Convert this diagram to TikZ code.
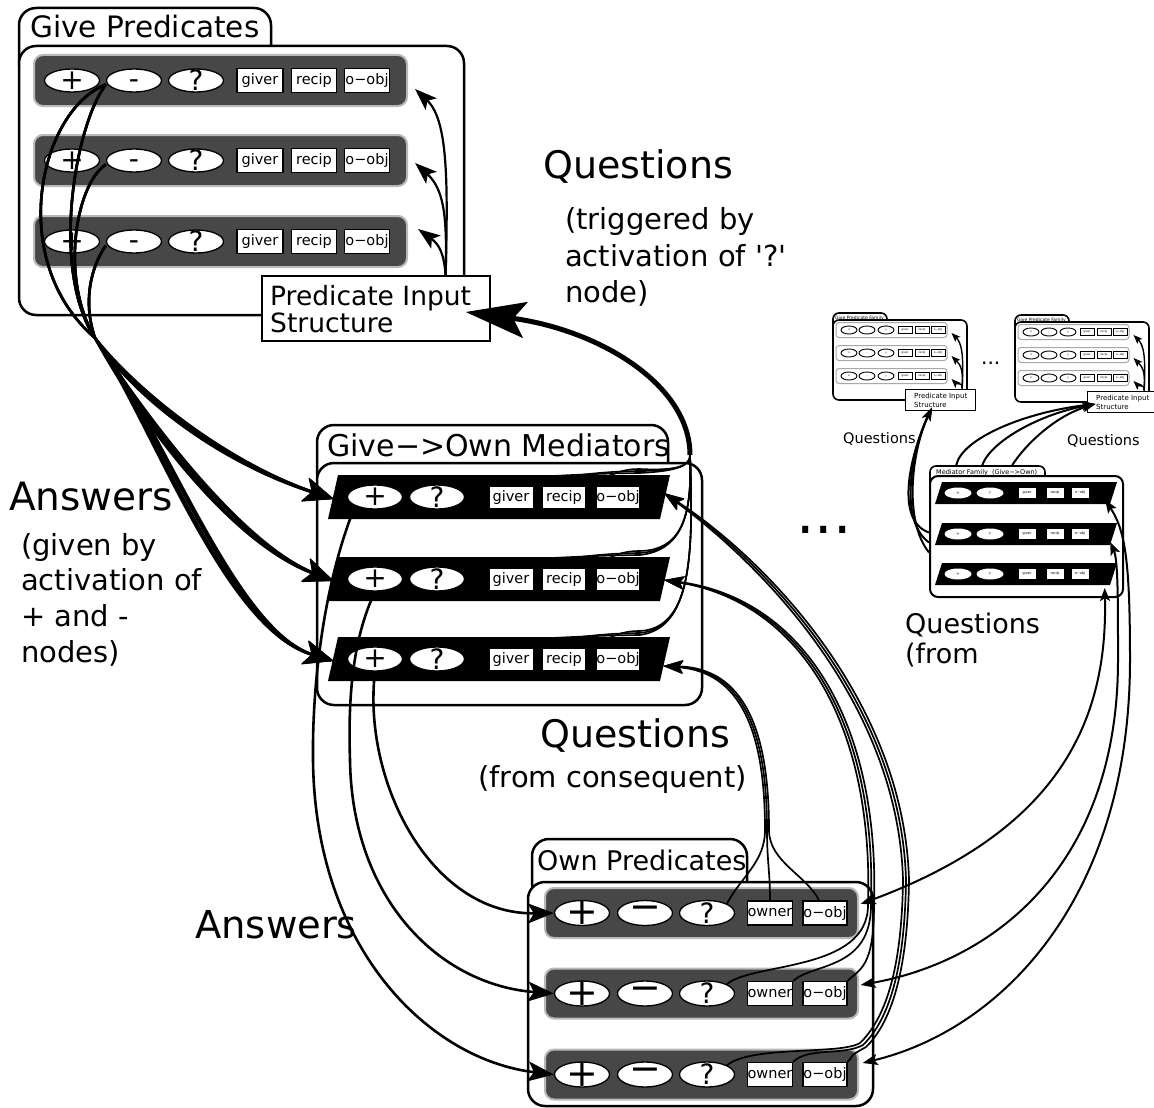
\documentclass[tikz,border=0pt]{standalone}
\usepackage{fontspec}
\setmainfont{DejaVu Sans}
\usetikzlibrary{shapes.geometric,arrows.meta}

\definecolor{rowgrey}{HTML}{474747}
\definecolor{rowedge}{HTML}{B9B9B9}
\definecolor{minirow}{HTML}{A8A8A8}
\newcommand\setsz[1]{\fontsize{#1}{#1}\selectfont}
% a hyphen whose box is centred on the glyph itself
\newcommand\lowdash{\raisebox{-7.6pt}[0pt][0pt]{-}}

\tikzset{
  grp/.style={draw, line width=2.5pt, rounded corners=17pt, fill=white, inner sep=0pt},
  predrow/.style={draw=rowedge, fill=rowgrey, line width=2pt, rounded corners=9pt, inner sep=0pt},
  ovshape/.style={ellipse, draw, fill=white, line width=1.3pt, inner sep=0pt, minimum width=55pt, minimum height=23pt},
  ov/.style={ovshape, label={[inner sep=0pt, font=\setsz{28}]center:#1}},
  ovB/.style={ovshape, minimum height=25pt, label={[inner sep=0pt, font=\setsz{38}]center:#1}},
  slot/.style={rectangle, draw, fill=white, line width=1.2pt, inner sep=0pt, minimum height=24pt, font=\setsz{14.5}},
  mslot/.style={slot, minimum height=22pt, line width=0.8pt},
  lbl/.style={anchor=base west, inner sep=0pt},
  pisbox/.style={rectangle, draw, fill=white, line width=1.3pt, inner sep=0pt},
  ans/.style={line width=2.6pt, -{Stealth[length=30pt,width=24pt,inset=7pt]}},
  ansO/.style={line width=2.6pt, -{Stealth[length=26pt,width=20pt,inset=6pt]}},
  pisA/.style={line width=2.2pt, -{Stealth[length=22pt,width=16pt,inset=5pt]}},
  qthin/.style={line width=1.6pt},
  qarr/.style={line width=1.7pt, -{Stealth[length=20pt,width=13pt,inset=4pt]}},
  trunk/.style={line width=5pt, -{Stealth[length=60pt,width=36pt,inset=12pt]}},
  rarr/.style={line width=2pt, {Stealth[length=15pt,width=11pt,inset=3pt]}-{Stealth[length=13pt,width=10pt,inset=3pt]}},
  farr/.style={line width=2pt, -{Stealth[length=13pt,width=9pt,inset=3pt]}},
  marr/.style={line width=1.4pt, -{Stealth[length=9pt,width=7pt,inset=2pt]}},
  % miniature families
  mgrp/.style={draw, line width=1.6pt, rounded corners=6pt, fill=white, inner sep=0pt},
  mrow/.style={draw=minirow, fill=white, line width=1pt, rounded corners=3pt, inner sep=0pt},
  mov/.style={ellipse, draw, fill=white, line width=0.9pt, inner sep=0pt, minimum width=16pt, minimum height=8pt, label={[inner sep=0pt, font=\setsz{3}]center:#1}},
  mbx/.style={rectangle, draw, fill=white, line width=0.7pt, inner sep=0pt, minimum width=14pt, minimum height=7pt, font=\setsz{2.8}},
  fov/.style={ellipse, fill=white, inner sep=0pt, minimum width=27pt, minimum height=11pt, label={[inner sep=0pt, font=\setsz{4}]center:#1}},
  fbx/.style={rectangle, fill=white, inner sep=0pt, minimum width=17pt, minimum height=10pt, font=\setsz{3.5}},
}

\begin{document}
\begin{tikzpicture}[x=1pt,y=-1pt]
\useasboundingbox (0,0) rectangle (1154,1108);

% ---------------- Give Predicates ----------------
\node[grp, minimum width=252pt, minimum height=72pt] (gtab) at (145,44) {};
\node[grp, minimum width=445pt, minimum height=269pt] (gbox) at (241.5,180.5) {};
\node[lbl, font=\setsz{29.5}] (gtitle) at (30,38) {Give Predicates};
\foreach \kk/\cy in {1/80.5, 2/160.5, 3/241.5} {
  \node[predrow, minimum width=373pt, minimum height=51pt] (grow\kk) at (220.5,\cy) {};
  \node[ov={+}] (gp\kk) at (72,\cy) {};
  \node[ov={\lowdash}] (gm\kk) at (134,\cy) {};
  \node[ov={?}] (gq\kk) at (196,\cy) {};
  \node[slot, minimum width=46pt] (gg\kk) at (260,\cy) {giver};
  \node[slot, minimum width=45pt] (gr\kk) at (314,\cy) {recip};
  \node[slot, minimum width=45pt] (go\kk) at (367,\cy) {o−obj};
}
\node[pisbox, minimum width=228pt, minimum height=65pt] (pis) at (376,308.5) {};
\node[lbl, font=\setsz{26.5}] (pist1) at (270,305) {Predicate Input};
\node[lbl, font=\setsz{26.5}] (pist2) at (270,332) {Structure};

% ---------------- Give->Own Mediators ----------------
\node[grp, minimum width=351pt, minimum height=65pt] (mtab) at (492.5,457.5) {};
\node[grp, minimum width=385pt, minimum height=242pt] (mbox) at (509.5,584) {};
\node[lbl, font=\setsz{30}] (mtitle) at (327,456) {Give−>Own Mediators};
\foreach \kk/\tp in {1/475, 2/557, 3/637} {
  \fill (338,\tp) -- (670,\tp) -- (660,{\tp+44}) -- (328,{\tp+44}) -- cycle;
  \node[ov={+}, minimum height=24pt] (mp\kk) at (375,{\tp+22}) {};
  \node[ov={?}, minimum height=24pt] (mq\kk) at (437,{\tp+22}) {};
  \node[mslot, minimum width=44pt] (mg\kk) at (511,{\tp+22}) {giver};
  \node[mslot, minimum width=43pt] (mr\kk) at (564,{\tp+22}) {recip};
  \node[mslot, minimum width=42pt] (mo\kk) at (618,{\tp+22}) {o−obj};
}

% ---------------- Own Predicates ----------------
\node[grp, minimum width=215pt, minimum height=61pt] (otab) at (639.5,869.5) {};
\node[grp, minimum width=345pt, minimum height=224pt] (obox) at (700.5,994) {};
\node[lbl, font=\setsz{27}] (otitle) at (537,870) {Own Predicates};
\foreach \kk/\cy in {1/913, 2/993.5, 3/1074.5} {
  \node[predrow, minimum width=313pt, minimum height=50pt] (orow\kk) at (701.5,\cy) {};
  \node[ovB={+}] (op\kk) at (582,\cy) {};
  \node[ovB={−}] (om\kk) at (645,\cy) {};
  \node[ov={?}, minimum height=25pt] (oq\kk) at (707,\cy) {};
  \node[slot, minimum width=45pt] (ow\kk) at (770,\cy) {owner};
  \node[slot, minimum width=44pt] (oo\kk) at (825,\cy) {o−obj};
}

% ---------------- miniature predicate families ----------------
\foreach \famid/\dx/\dy in {1/0/0, 2/182/2} {
  \begin{scope}[shift={(\dx,\dy)}]
    \node[mgrp, minimum width=54pt, minimum height=18pt] (f\famid-tab) at (860,322) {};
    \node[mgrp, minimum width=134pt, minimum height=80pt] (f\famid-box) at (900,360) {};
    \node[lbl, font=\setsz{4.5}] (f\famid-title) at (835,319) {Give Predicate Family};
    \foreach \rr/\cy in {1/330, 2/353, 3/376} {
      \node[mrow, minimum width=111pt, minimum height=15pt] (f\famid-row\rr) at (891.5,\cy) {};
      \node[mov={+}] (f\famid-p\rr) at (849,\cy) {};
      \node[mov={-}] (f\famid-m\rr) at (867,\cy) {};
      \node[mov={?}] (f\famid-q\rr) at (886,\cy) {};
      \node[mbx] (f\famid-g\rr) at (905,\cy) {giver};
      \node[mbx] (f\famid-r\rr) at (922,\cy) {recip};
      \node[mbx] (f\famid-o\rr) at (938,\cy) {o−obj};
    }
    \node[pisbox, line width=1pt, minimum width=70pt, minimum height=21pt] (f\famid-pis) at (940,399.5) {};
    \node[lbl, font=\setsz{7}] (f\famid-pt1) at (914,398) {Predicate Input};
    \node[lbl, font=\setsz{7}] (f\famid-pt2) at (914,407.5) {Structure};
    \foreach \rr/\aa/\bb in {1/-35/10, 2/-20/8, 3/-6/5} {
      \draw[marr] ([xshift=22pt]f\famid-pis.north) .. controls +(2,\aa) and +(\bb,\bb) .. ([xshift=4pt,yshift=-3pt]f\famid-row\rr.east);
    }
  \end{scope}
}

% ---------------- miniature mediator family ----------------
\node[mgrp, minimum width=115pt, minimum height=22pt] (mf-tab) at (987.5,477) {};
\node[mgrp, line width=2pt, rounded corners=8pt, minimum width=193pt, minimum height=121pt] (mf-box) at (1026.5,536.5) {};
\node[lbl, font=\setsz{6.5}] (mf-title) at (936,474) {Mediator Family~ (Give−>Own)};
\foreach \kk/\tp in {1/482, 2/523, 3/563} {
  \fill (942,\tp) -- (1117,\tp) -- (1110,{\tp+22}) -- (935,{\tp+22}) -- cycle;
  \node[fov={+}] (mf-p\kk) at (958,{\tp+11}) {};
  \node[fov={?}] (mf-q\kk) at (990,{\tp+11}) {};
  \node[fbx] (mf-g\kk) at (1027,{\tp+11}) {giver};
  \node[fbx] (mf-r\kk) at (1055,{\tp+11}) {recip};
  \node[fbx] (mf-o\kk) at (1080,{\tp+11}) {o−obj};
}

% ---------------- free text ----------------
\node[lbl, font=\setsz{38}] (qtop) at (543,178) {Questions};
\node[lbl, font=\setsz{29}] (qtop1) at (565,229) {(triggered by};
\node[lbl, font=\setsz{29}] (qtop2) at (565,266) {activation of \textquotesingle?\textquotesingle};
\node[lbl, font=\setsz{29}] (qtop3) at (565,302) {node)};
\node[lbl, font=\setsz{39}] (ansl) at (9,510) {Answers};
\node[lbl, font=\setsz{29}] (ansl1) at (21,555) {(given by};
\node[lbl, font=\setsz{29}] (ansl2) at (21,590) {activation of};
\node[lbl, font=\setsz{29}] (ansl3) at (21,626) {+ and -};
\node[lbl, font=\setsz{29}] (ansl4) at (21,662) {nodes)};
\node[lbl, font=\setsz{38}] (qmid) at (540,747) {Questions};
\node[lbl, font=\setsz{29}] (qmid1) at (478,787) {(from consequent)};
\node[lbl, font=\setsz{38.5}] (ansb) at (195,938) {Answers};
\node[lbl, font=\setsz{58}] (dots) at (796,533) {...};
\node[lbl, font=\setsz{27}] (qright) at (905,633) {Questions};
\node[lbl, font=\setsz{27}] (qright1) at (905,663) {(from};
\node[lbl, font=\setsz{14.5}] (qsmall1) at (843,443) {Questions};
\node[lbl, font=\setsz{14.5}] (qsmall2) at (1067,445) {Questions};
\node[lbl, font=\setsz{20}] (dots2) at (981,364) {...};

% ---------------- connectors ----------------
% predicate input structure feeds the give rows
\coordinate (pisTop) at ([xshift=-45pt]pis.north east);
\draw[pisA] (pisTop) .. controls (448,180) and (448,120) .. ([xshift=25pt,yshift=-8.5pt]go1.east);
\draw[pisA] (pisTop) .. controls (447,220) and (445,190) .. ([xshift=25pt,yshift=-2.5pt]go2.east);
\draw[pisA] (pisTop) .. controls (444,255) and (440,245) .. ([xshift=28pt,yshift=12.5pt]go3.east);

% answers from the give rows to the mediator rows
\coordinate (conv) at (95,338);
\foreach \jj/\ax/\ay/\bx/\by in {1/140/400/230/465, 2/150/430/240/545, 3/160/430/230/630} {
  \foreach \gi/\ux/\uy/\vx/\vy/\dd in {1/40/110/5/260/-5, 1/75/125/50/270/-2, 2/75/185/60/280/2, 3/92/265/82/300/5} {
    \draw[ans] ([yshift=-4pt]gm\gi.west) .. controls (\ux,\uy) and (\vx,\vy) .. (conv)
      .. controls ({\ax+\dd},\ay) and ({\bx+\dd},\by) .. ([xshift=-13pt,yshift=-2pt]mp\jj.west);
  }
}

% questions from the mediator rows to the predicate input structure
\coordinate (medQ) at (690,455);
\coordinate (pisTip) at ([xshift=-25pt,yshift=-3.5pt]pis.east);
\foreach \kk/\tp/\hx/\hy/\gx/\gy in {1/475/680/471/690/465, 2/557/685/550/692/510, 3/637/690/628/694/560} {
  \foreach \st/\ii in {mq\kk.north east/0, mg\kk.north east/1, mr\kk.north east/2} {
    \draw[qthin] (\st) .. controls +(30,-12) and (620,{\tp-2-2*\ii}) .. (640,{\tp-2-2*\ii})
      .. controls (\hx,\hy) and (\gx,\gy) .. (medQ);
  }
}
\draw[trunk] (medQ) .. controls (690,385) and (600,330) .. (pisTip);

% answers from the mediator rows to the own rows
\draw[ansO] (mp1.south west) .. controls (325,580) and (312,680) .. (313,760) .. controls (315,950) and (430,1060) .. (op3.west);
\draw[ansO] (mp2.south) .. controls (352,640) and (348,700) .. (350,760) .. controls (352,900) and (440,985) .. (op2.west);
\draw[ansO] (mp3.south) .. controls (362,780) and (430,915) .. (op1.west);

% questions from the own rows back to the mediator rows
\coordinate (mt1) at ([xshift=24pt,yshift=4pt]mo1.east);
\coordinate (mt2) at ([xshift=24pt,yshift=-1pt]mo2.east);
\coordinate (mt3) at ([xshift=23pt,yshift=-7pt]mo3.east);
\draw[qarr] (oq1.north east) .. controls +(15,-28) and (765,862) .. (765,830) .. controls (765,730) and (740,672) .. (mt3);
\draw[qarr] (ow1.north) .. controls +(0,-30) and (767,862) .. (767,830) .. controls (767,730) and (742,670) .. (mt3);
\draw[qarr] ([xshift=-6pt]oo1.north) .. controls +(-12,-25) and (769,862) .. (769,830) .. controls (769,730) and (744,668) .. (mt3);
\draw[qarr] (oq2.north east) .. controls +(25,-22) and (868,972) .. (868,905) .. controls (874,720) and (798,602) .. (mt2);
\draw[qarr] (ow2.north east) .. controls +(20,-18) and (871,970) .. (871,905) .. controls (877,720) and (800,600) .. (mt2);
\draw[qarr] (oo2.north east) .. controls +(12,-12) and (874,968) .. (874,905) .. controls (880,720) and (802,598) .. (mt2);
\draw[qarr] (oq3.north east) .. controls +(25,-20) and (840,1055) .. (860,1043) .. controls (892,1012) and (902,950) .. (903,880) .. controls (898,700) and (758,562) .. (mt1);
\draw[qarr] (ow3.north east) .. controls +(15,-15) and (843,1056) .. (863,1045) .. controls (895,1014) and (905,950) .. (906,880) .. controls (901,700) and (761,560) .. (mt1);
\draw[qarr] (oo3.north east) .. controls +(8,-8) and (846,1058) .. (866,1047) .. controls (898,1016) and (908,950) .. (909,880) .. controls (904,700) and (764,558) .. (mt1);

% mediator family questions to the two give families
\coordinate (pis2tip) at ([xshift=9pt,yshift=-2.5pt]f2-pis.west);
\coordinate (pis1tip) at ([xshift=-8pt,yshift=3pt]f1-pis.south);
\foreach \sx/\ax/\ay/\bx/\by in {27/962/438/1026/412, 53/991/441/1040/414, 83/1025/445/1055/416} {
  \draw[farr] ([xshift=\sx]mf-tab.north west) .. controls (\ax,\ay) and (\bx,\by) .. (pis2tip);
}
\foreach \sy/\cx in {4/893, -6/898, -16/903} {
  \draw[farr] ([yshift=\sy]mf-box.west) .. controls (\cx,520) and (912,450) .. (pis1tip);
}

% own rows linked with the mediator family
\draw[rarr] ([xshift=13pt,yshift=9pt]oo1.east) .. controls (1060,830) and (1108,720) .. ([xshift=16pt,yshift=-14pt]mf-o3.east);
\draw[rarr] ([xshift=13pt,yshift=8.5pt]oo2.east) .. controls (1000,960) and (1118,860) .. (1118,660) .. controls (1118,600) and (1118,560) .. ([xshift=21.5pt,yshift=-8pt]mf-o2.east);
\draw[rarr] ([xshift=15pt,yshift=11.5pt]oo3.east) .. controls (1000,1030) and (1130,900) .. (1130,660) .. controls (1130,560) and (1125,530) .. ([xshift=16.5pt,yshift=-7pt]mf-o1.east);

\end{tikzpicture}
\end{document}
